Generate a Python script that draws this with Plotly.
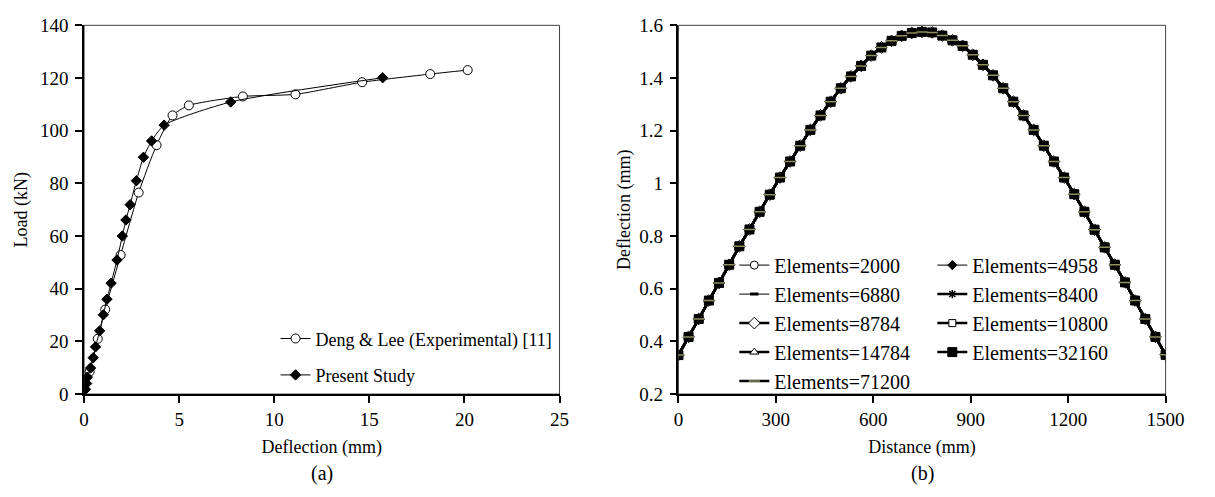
import plotly.graph_objects as go

FONT = "Times New Roman, Liberation Serif, DejaVu Serif, serif"

# ---------------- (a) Load-deflection data ----------------
deng_x = [0.29, 0.72, 1.11, 1.92, 2.87, 3.81, 4.65, 5.51, 8.35, 11.11, 14.62, 18.20, 20.17]
deng_y = [8.5, 21.0, 32.1, 52.8, 76.5, 94.5, 105.8, 109.6, 113.0, 113.8, 118.4, 121.5, 123.0]

present_x = [0.07, 0.13, 0.17, 0.34, 0.48, 0.60, 0.82, 1.01, 1.20, 1.42, 1.73, 2.01,
             2.20, 2.42, 2.75, 3.12, 3.55, 4.21, 7.71, 15.70]
present_y = [1.8, 4.0, 6.4, 9.9, 13.8, 17.9, 24.0, 30.1, 36.0, 42.1, 50.9, 60.0,
             66.1, 71.9, 81.0, 89.9, 96.1, 102.1, 110.9, 120.1]

# ---------------- (b) Mesh convergence data ----------------
elements = [2000, 4958, 6880, 8400, 8784, 10800, 14784, 32160, 71200]

distance = [0, 31.25, 62.5, 93.75, 125, 156.25, 187.5, 218.75, 250, 281.25, 312.5,
            343.75, 375, 406.25, 437.5, 468.75, 500, 531.25, 562.5, 593.75, 625,
            656.25, 687.5, 718.75, 750, 781.25, 812.5, 843.75, 875, 906.25, 937.5,
            968.75, 1000, 1031.25, 1062.5, 1093.75, 1125, 1156.25, 1187.5, 1218.75,
            1250, 1281.25, 1312.5, 1343.75, 1375, 1406.25, 1437.5, 1468.75, 1500]

deflection = [0.348, 0.417, 0.485, 0.555, 0.622, 0.691, 0.761, 0.825, 0.892, 0.957,
              1.022, 1.083, 1.143, 1.203, 1.258, 1.310, 1.361, 1.406, 1.446, 1.485,
              1.516, 1.541, 1.560, 1.571, 1.575, 1.573, 1.561, 1.543, 1.522, 1.488,
              1.450, 1.410, 1.361, 1.310, 1.258, 1.203, 1.143, 1.083, 1.022, 0.959,
              0.892, 0.824, 0.757, 0.691, 0.624, 0.555, 0.485, 0.417, 0.349]

# styles per mesh (symbol, marker fill, marker size, marker line width, marker line color, line width, legend)
styles = {
    2000:  ("circle", "white", 8, 1, "black", 1, "legend2"),
    4958:  ("diamond", "black", 7, 1, "black", 1, "legend3"),
    6880:  ("line-ew", "black", 6, 3, "black", 1, "legend2"),
    8400:  ("asterisk", "black", 7, 1.5, "black", 2.5, "legend3"),
    8784:  ("diamond", "white", 9, 1, "black", 2.5, "legend2"),
    10800: ("square", "white", 7, 1, "black", 2.5, "legend3"),
    14784: ("triangle-up", "white", 8, 1, "black", 2.5, "legend2"),
    32160: ("square", "black", 9, 1, "black", 2.5, "legend3"),
    71200: ("line-ew", "black", 8, 1.5, "#8f8f60", 2.5, "legend2"),
}

fig = go.Figure()

fig.add_trace(go.Scatter(
    x=deng_x, y=deng_y, mode="lines+markers", name="Deng & Lee (Experimental) [11]",
    line=dict(color="black", width=1, shape="spline", smoothing=0.6),
    marker=dict(symbol="circle", size=9, color="white", line=dict(color="black", width=1)),
    xaxis="x", yaxis="y", legend="legend", legendgroup="a"))
fig.add_trace(go.Scatter(
    x=present_x, y=present_y, mode="lines+markers", name="Present Study",
    line=dict(color="black", width=1, shape="spline", smoothing=0.6),
    marker=dict(symbol="diamond", size=8, color="black", line=dict(color="black", width=1)),
    xaxis="x", yaxis="y", legend="legend", legendgroup="b"))

for n in elements:
    sym, fill, size, mlw, mlc, lw, leg = styles[n]
    fig.add_trace(go.Scatter(
        x=distance, y=deflection, mode="lines+markers", name=f"Elements={n}",
        line=dict(color="black", width=lw, shape="spline", smoothing=0.5),
        marker=dict(symbol=sym, size=size, color=fill, line=dict(color=mlc, width=mlw)),
        xaxis="x2", yaxis="y2", legend=leg))

axis_common = dict(
    showline=True, linecolor="black", linewidth=1.5, ticks="outside", ticklen=7,
    tickwidth=1.5, tickcolor="black", showgrid=False, zeroline=False,
    tickfont=dict(family=FONT, size=19, color="black"),
)

W, H = 1215, 497
x1d = [80.7 / W, 565.7 / W]
x2d = [687 / W, 1184 / W]
yd = [(H - 401) / H, (H - 16) / H]

fig.update_layout(
    width=W, height=H, margin=dict(l=0, r=0, t=0, b=0),
    paper_bgcolor="white", plot_bgcolor="white",
    font=dict(family=FONT, color="black"),
    xaxis=dict(domain=x1d, range=[0, 25], dtick=5, anchor="y",
               title=dict(text="Deflection (mm)", font=dict(family=FONT, size=18), standoff=12),
               **axis_common),
    yaxis=dict(domain=yd, range=[0, 140], dtick=20, anchor="x", ticklabelstandoff=3,
               title=dict(text="Load (kN)", font=dict(family=FONT, size=18), standoff=8),
               **axis_common),
    xaxis2=dict(domain=x2d, range=[0, 1500], dtick=300, anchor="y2",
                title=dict(text="Distance (mm)", font=dict(family=FONT, size=18), standoff=12),
                **axis_common),
    yaxis2=dict(domain=yd, range=[0.2, 1.6], dtick=0.2, anchor="x2", ticklabelstandoff=3,
                title=dict(text="Deflection (mm)", font=dict(family=FONT, size=18), standoff=4),
                **axis_common),
    legend=dict(x=276 / W, y=1 - 324 / H, xanchor="left", yanchor="top",
                bgcolor="rgba(0,0,0,0)", font=dict(family=FONT, size=18),
                tracegroupgap=10),
    legend2=dict(x=744 / W, y=1 - 246 / H, xanchor="left", yanchor="top",
                 bgcolor="rgba(0,0,0,0)", font=dict(family=FONT, size=20)),
    legend3=dict(x=946 / W, y=1 - 246 / H, xanchor="left", yanchor="top",
                 bgcolor="rgba(0,0,0,0)", font=dict(family=FONT, size=20)),
    showlegend=True,
    shapes=[
        dict(type="rect", xref="x domain", yref="y domain", x0=0, x1=1, y0=0, y1=1,
             line=dict(color="#404040", width=1), layer="below"),
        dict(type="rect", xref="x2 domain", yref="y2 domain", x0=0, x1=1, y0=0, y1=1,
             line=dict(color="#404040", width=1), layer="below"),
    ],
    annotations=[
        dict(text="(a)", xref="x domain", yref="paper", x=0.5, y=1 - 484 / H,
             yanchor="middle", showarrow=False, font=dict(family=FONT, size=20, color="black")),
        dict(text="(b)", xref="x2 domain", yref="paper", x=0.5, y=1 - 484 / H,
             yanchor="middle", showarrow=False, font=dict(family=FONT, size=20, color="black")),
    ],
)

fig.write_html("out.html")
